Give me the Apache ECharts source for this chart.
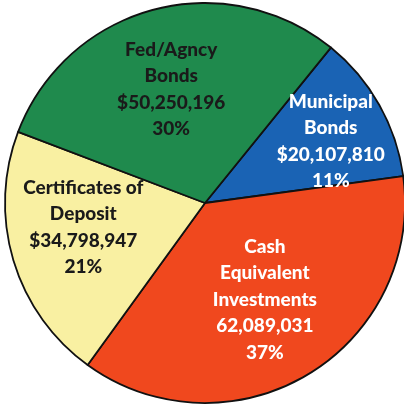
<!DOCTYPE html>
<html><head><meta charset="utf-8">
<style>html,body{margin:0;padding:0;background:#fff}#c{width:404px;height:406px}</style>
<script src="https://cdn.jsdelivr.net/npm/echarts@6/dist/echarts.min.js"></script>
</head><body><div id="c"></div>
<script>
const categories = ["Municipal\nBonds", "Cash\nEquivalent\nInvestments", "Certificates of\nDeposit", "Fed/Agncy\nBonds"];
const values = [20107810, 62089031, 34798947, 50250196];
const valueLabels = ["$20,107,810", "62,089,031", "$34,798,947", "$50,250,196"];
const percentLabels = ["11%", "37%", "21%", "30%"];
const colors = ["#1a63b4", "#f0481e", "#f9f0a2", "#1f8a4d"];
const textColors = ["#ffffff", "#ffffff", "#1a1a1a", "#1a1a1a"];
const labelShift = [[36, -11], [7, 8], [-23, -5], [-7, -14]];

const chart = echarts.init(document.getElementById('c'), null, {renderer: 'canvas'});
chart.setOption({
  animation: false,
  backgroundColor: '#ffffff',
  series: [{
    type: 'pie',
    center: [205, 203],
    radius: [0, 200],
    startAngle: 51,
    clockwise: true,
    avoidLabelOverlap: false,
    itemStyle: {borderColor: '#111', borderWidth: 1.8},
    label: {
      position: 'inside',
      fontFamily: 'Lato',
      fontWeight: 900,
      fontSize: 19,
      lineHeight: 26.5,
      align: 'center'
    },
    labelLayout: function (p) {
      const s = labelShift[p.dataIndex];
      return {dx: s[0], dy: s[1]};
    },
    data: values.map((v, i) => ({
      value: v,
      name: categories[i],
      itemStyle: {color: colors[i]},
      label: {
        color: textColors[i],
        formatter: categories[i] + "\n" + valueLabels[i] + "\n" + percentLabels[i]
      }
    }))
  }]
});
</script></body></html>
